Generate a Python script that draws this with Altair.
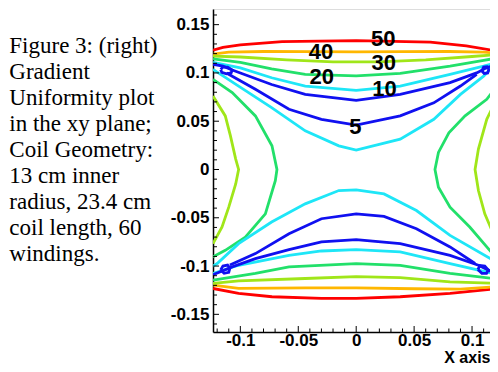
import altair as alt
import pandas as pd

# ---------------- data ----------------
LEVELS = ["50", "40", "30", "20", "10", "5"]
LEVEL_COLORS = ["#ff0000", "#ffb700", "#a0e619", "#22e06a", "#1ee6f7", "#1010f0"]

# upper half
red_top_x = [-0.1236, -0.115, -0.100, -0.064, 0.000, 0.064, 0.095, 0.1224]
red_top_y = [0.1235, 0.1265, 0.1290, 0.1325, 0.1335, 0.1320, 0.1280, 0.1225]
orange_top_x = [-0.1236, -0.110, -0.080, -0.040, 0.000, 0.040, 0.080, 0.110, 0.1224]
orange_top_y = [0.1195, 0.1215, 0.1222, 0.1220, 0.1218, 0.1220, 0.1222, 0.1215, 0.1205]
lime_top_x = [-0.1236, -0.100, -0.060, -0.020, 0.020, 0.060, 0.100, 0.1224]
lime_top_y = [0.1175, 0.1165, 0.1135, 0.1115, 0.1115, 0.1135, 0.1170, 0.1190]
green_top_x = [-0.1236, -0.100, -0.073, -0.044, 0.000, 0.038, 0.081, 0.110, 0.1224]
green_top_y = [0.1146, 0.1110, 0.1043, 0.0985, 0.0970, 0.0995, 0.1070, 0.1130, 0.1157]
cyan_top_x = [-0.1236, -0.100, -0.073, -0.044, 0.000, 0.038, 0.081, 0.110, 0.1224]
cyan_top_y = [0.1110, 0.1053, 0.0950, 0.0864, 0.0820, 0.0864, 0.0985, 0.1070, 0.1110]
blue_top_x = [-0.1236, -0.115, -0.107, -0.073, -0.044, 0.000, 0.038, 0.081, 0.104, 0.112, 0.1224]
blue_top_y = [0.1090, 0.1070, 0.1030, 0.0880, 0.0778, 0.0716, 0.0778, 0.0899, 0.1000, 0.1050, 0.1090]
blue_in_top_x = [-0.112, -0.087, -0.058, -0.030, 0.000, 0.038, 0.067, 0.090, 0.104]
blue_in_top_y = [0.1000, 0.0830, 0.0624, 0.0520, 0.0459, 0.0555, 0.0690, 0.0864, 0.0985]
cyan_in_top_x = [-0.1236, -0.1015, -0.073, -0.044, -0.015, 0.000, 0.038, 0.067, 0.090, 0.110, 0.1184]
cyan_in_top_y = [0.1036, 0.0864, 0.0640, 0.0400, 0.0245, 0.0201, 0.0314, 0.0520, 0.0778, 0.0967, 0.1070]
loop_tl_x = [-0.117, -0.115, -0.111, -0.107, -0.108, -0.112, -0.116, -0.117]
loop_tl_y = [0.1035, 0.1060, 0.1060, 0.1030, 0.1000, 0.0990, 0.1005, 0.1035]
loop_tr_x = [0.1085, 0.1100, 0.1130, 0.1145, 0.1135, 0.1105, 0.1085]
loop_tr_y = [0.1020, 0.1060, 0.1065, 0.1035, 0.1000, 0.0995, 0.1020]

# side curves
green_left_x = [-0.1236, -0.107, -0.087, -0.0727, -0.0684, -0.0698, -0.0784, -0.0957, -0.113, -0.1236]
green_left_y = [0.0933, 0.0796, 0.0555, 0.0245, 0.0000, -0.0115, -0.0459, -0.0700, -0.0837, -0.0905]
lime_left_x = [-0.1236, -0.113, -0.1086, -0.104, -0.1015, -0.104, -0.110, -0.1158, -0.1236]
lime_left_y = [0.0760, 0.0555, 0.0350, 0.0108, 0.0000, -0.0150, -0.0390, -0.0596, -0.0768]
green_right_x = [0.1224, 0.1127, 0.094, 0.080, 0.071, 0.068, 0.071, 0.081, 0.098, 0.1127, 0.1224]
green_right_y = [0.0880, 0.0727, 0.0555, 0.0380, 0.0177, 0.0000, -0.0184, -0.0390, -0.0596, -0.0802, -0.0935]
lime_right_x = [0.1224, 0.1127, 0.1055, 0.1026, 0.1055, 0.111, 0.1224]
lime_right_y = [0.0760, 0.0520, 0.0211, 0.0000, -0.0218, -0.0459, -0.0780]

# lower half
red_bot_x = [-0.1236, -0.1015, -0.0727, -0.030, 0.000, 0.038, 0.081, 0.1224]
red_bot_y = [-0.1232, -0.1284, -0.1318, -0.1335, -0.1335, -0.1318, -0.1284, -0.1232]
orange_bot_x = [-0.1236, -0.1015, -0.044, 0.000, 0.050, 0.090, 0.1224]
orange_bot_y = [-0.1198, -0.1232, -0.1225, -0.1225, -0.1235, -0.1240, -0.1212]
lime_bot_x = [-0.1236, -0.1015, -0.044, 0.000, 0.038, 0.081, 0.1224]
lime_bot_y = [-0.1180, -0.1153, -0.1129, -0.1110, -0.1119, -0.1163, -0.1180]
green_bot_x = [-0.1236, -0.087, -0.058, 0.000, 0.038, 0.081, 0.1224]
green_bot_y = [-0.1146, -0.1077, -0.1009, -0.0974, -0.0992, -0.1077, -0.1135]
cyan_bot_x = [-0.1236, -0.1015, -0.058, -0.030, 0.000, 0.038, 0.081, 0.1184, 0.1224]
cyan_bot_y = [-0.1077, -0.0992, -0.0889, -0.0844, -0.0830, -0.0854, -0.0974, -0.1077, -0.1090]
blue_bot_x = [-0.1236, -0.107, -0.087, -0.058, -0.030, 0.000, 0.038, 0.081, 0.1055, 0.1224]
blue_bot_y = [-0.1090, -0.1009, -0.0923, -0.0830, -0.0750, -0.0727, -0.0768, -0.0889, -0.0992, -0.1090]
blue_in_bot_x = [-0.109, -0.087, -0.058, -0.030, 0.000, 0.024, 0.052, 0.081, 0.1026]
blue_in_bot_y = [-0.0990, -0.0871, -0.0665, -0.0510, -0.0459, -0.0486, -0.0613, -0.0802, -0.0974]
cyan_in_bot_x = [-0.1236, -0.120, -0.1015, -0.073, -0.044, -0.015, 0.000, 0.024, 0.052, 0.081, 0.1184]
cyan_in_bot_y = [-0.1000, -0.0974, -0.0768, -0.0544, -0.0356, -0.0218, -0.0211, -0.0253, -0.0425, -0.0682, -0.0940]
loop_bl_x = [-0.117, -0.115, -0.111, -0.109, -0.110, -0.114, -0.117]
loop_bl_y = [-0.1040, -0.1000, -0.0990, -0.1020, -0.1065, -0.1075, -0.1040]
loop_br_x = [0.1050, 0.1070, 0.1110, 0.1140, 0.1125, 0.1085, 0.1050]
loop_br_y = [-0.1035, -0.0995, -0.1000, -0.1040, -0.1075, -0.1075, -0.1035]

LINES = [
    ("red_top", "50", red_top_x, red_top_y),
    ("orange_top", "40", orange_top_x, orange_top_y),
    ("lime_top", "30", lime_top_x, lime_top_y),
    ("green_top", "20", green_top_x, green_top_y),
    ("cyan_top", "10", cyan_top_x, cyan_top_y),
    ("blue_top", "5", blue_top_x, blue_top_y),
    ("blue_in_top", "5", blue_in_top_x, blue_in_top_y),
    ("cyan_in_top", "10", cyan_in_top_x, cyan_in_top_y),
    ("loop_tl", "5", loop_tl_x, loop_tl_y),
    ("loop_tr", "5", loop_tr_x, loop_tr_y),
    ("green_left", "20", green_left_x, green_left_y),
    ("lime_left", "30", lime_left_x, lime_left_y),
    ("green_right", "20", green_right_x, green_right_y),
    ("lime_right", "30", lime_right_x, lime_right_y),
    ("red_bot", "50", red_bot_x, red_bot_y),
    ("orange_bot", "40", orange_bot_x, orange_bot_y),
    ("lime_bot", "30", lime_bot_x, lime_bot_y),
    ("green_bot", "20", green_bot_x, green_bot_y),
    ("cyan_bot", "10", cyan_bot_x, cyan_bot_y),
    ("blue_bot", "5", blue_bot_x, blue_bot_y),
    ("blue_in_bot", "5", blue_in_bot_x, blue_in_bot_y),
    ("cyan_in_bot", "10", cyan_in_bot_x, cyan_in_bot_y),
    ("loop_bl", "5", loop_bl_x, loop_bl_y),
    ("loop_br", "5", loop_br_x, loop_br_y),
]

label_text = ["50", "40", "30", "20", "10", "5"]
label_x = [0.0233, -0.0303, 0.0237, -0.0297, 0.0245, -0.0007]
label_y = [0.1347, 0.1219, 0.1098, 0.0957, 0.0833, 0.0440]

x_major = [-0.1, -0.05, 0, 0.05, 0.1]
x_minor = [-0.12, -0.11, -0.09, -0.08, -0.07, -0.06, -0.04, -0.03, -0.02, -0.01,
           0.01, 0.02, 0.03, 0.04, 0.06, 0.07, 0.08, 0.09, 0.11]
y_major = [-0.15, -0.1, -0.05, 0, 0.05, 0.1, 0.15]
y_minor = [-0.16, -0.14, -0.13, -0.12, -0.11, -0.09, -0.08, -0.07, -0.06, -0.04,
           -0.03, -0.02, -0.01, 0.01, 0.02, 0.03, 0.04, 0.06, 0.07, 0.08, 0.09,
           0.11, 0.12, 0.13, 0.14, 0.16]

caption_lines = [
    "Figure 3: (right)",
    "Gradient",
    "Uniformity plot",
    "in the xy plane;",
    "Coil Geometry:",
    "13 cm inner",
    "radius, 23.4 cm",
    "coil length, 60",
    "windings.",
]

# ---------------- chart ----------------
W, H = 277, 323
X_DOMAIN = [-0.1236, 0.1155]
Y_DOMAIN = [-0.1683, 0.1662]

rows = []
for lid, lev, xs, ys in LINES:
    for i, (xv, yv) in enumerate(zip(xs, ys)):
        rows.append({"id": lid, "level": lev, "i": i, "x": xv, "y": yv})
df = pd.DataFrame(rows)

xs_ = alt.Scale(domain=X_DOMAIN, nice=False, zero=False)
ys_ = alt.Scale(domain=Y_DOMAIN, nice=False, zero=False)

LF = "Liberation Sans"

x_axis = alt.Axis(
    values=x_major, labelExpr="'' + datum.value", ticks=False, grid=False,
    domainColor="black", domainWidth=1.5, labelFont=LF, labelFontWeight="bold",
    labelFontSize=17, labelColor="black", labelPadding=0.5, labelFlush=False,
    labelOverlap=False, title="X axis", titleFont=LF, titleFontWeight="bold",
    titleFontSize=16, titleColor="black", titleAnchor="end", titleAlign="right",
    titleBaseline="alphabetic", titleX=W, titleY=30,
)
y_axis = alt.Axis(
    values=y_major, labelExpr="'' + datum.value", ticks=False, grid=False,
    domainColor="black", domainWidth=1.5, labelFont=LF, labelFontWeight="bold",
    labelFontSize=17, labelColor="black", labelPadding=4, labelFlush=False,
    labelOverlap=False, title=None,
)

lines = alt.Chart(df).mark_line(strokeWidth=2.8, clip=True).encode(
    x=alt.X("x:Q", scale=xs_, axis=x_axis),
    y=alt.Y("y:Q", scale=ys_, axis=y_axis),
    color=alt.Color("level:N", scale=alt.Scale(domain=LEVELS, range=LEVEL_COLORS), legend=None),
    detail="id:N",
    order="i:Q",
)

labels = alt.Chart(pd.DataFrame({"t": label_text, "x": label_x, "y": label_y})).mark_text(
    font=LF, fontWeight="bold", fontSize=22, color="black", align="center", baseline="middle"
).encode(x=alt.X("x:Q", scale=xs_), y=alt.Y("y:Q", scale=ys_), text="t:N")

def yticks(vals, length):
    return alt.Chart(pd.DataFrame({"y": vals})).mark_rule(color="black", strokeWidth=1).encode(
        y=alt.Y("y:Q", scale=ys_), x=alt.value(0), x2=alt.value(length))

def xticks(vals, length):
    return alt.Chart(pd.DataFrame({"x": vals})).mark_rule(color="black", strokeWidth=1).encode(
        x=alt.X("x:Q", scale=xs_), y=alt.value(H), y2=alt.value(H - length))

caption = alt.Chart(pd.DataFrame({"a": [0]})).mark_text(
    text=caption_lines, font="Liberation Serif", fontSize=23, lineHeight=26,
    align="left", baseline="alphabetic", color="black"
).encode(x=alt.value(-203.7), y=alt.value(44))

chart = alt.layer(
    lines, labels,
    yticks(y_major, 6), yticks(y_minor, 4),
    xticks(x_major, 6), xticks(x_minor, 3.5),
    caption,
).properties(
    width=W, height=H,
    autosize=alt.AutoSizeParams(type="none"),
    padding={"left": 205, "top": 1, "right": 0, "bottom": 32},
).configure_view(stroke=None).configure(background="white")

chart.save("out.html", embed_options={"renderer": "svg", "actions": False})
